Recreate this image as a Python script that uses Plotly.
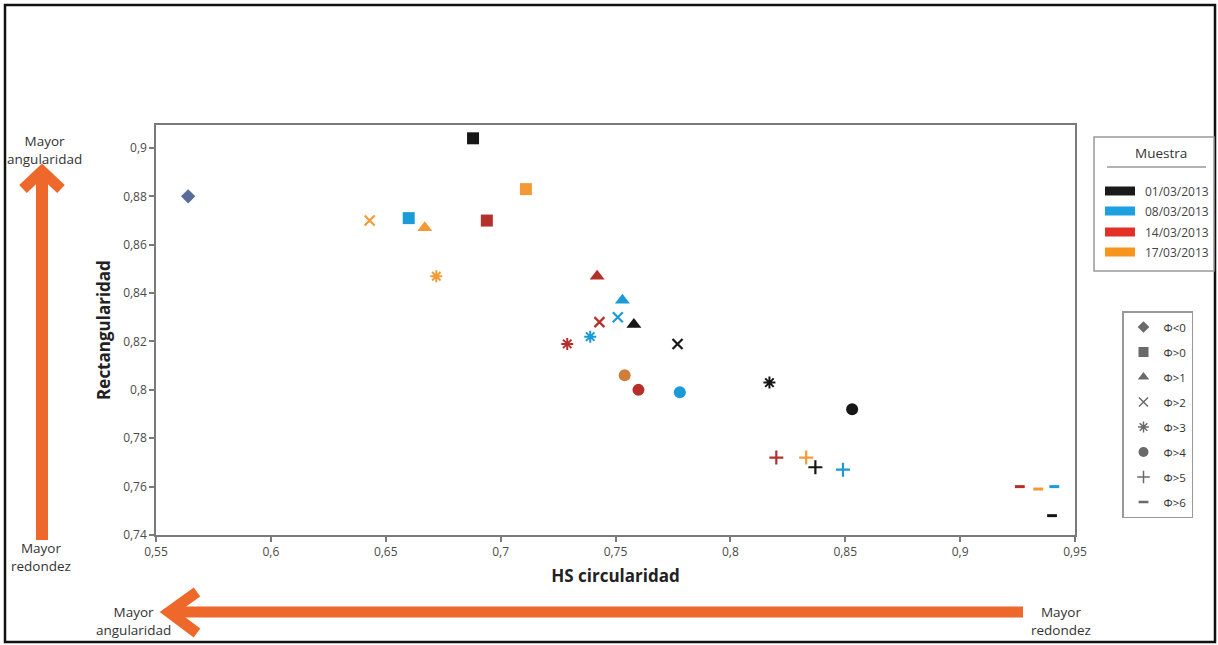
import plotly.graph_objects as go

# ---------------- data ----------------
classes = ["Φ<0", "Φ>0", "Φ>1", "Φ>2", "Φ>3", "Φ>4", "Φ>5", "Φ>6"]
samples = ["01/03/2013", "08/03/2013", "14/03/2013", "17/03/2013"]

# points for classes Φ>0 .. Φ>6 (7 values each)
x_0103 = [0.688, 0.758, 0.777, 0.817, 0.853, 0.837, 0.940]
y_0103 = [0.904, 0.827, 0.819, 0.803, 0.792, 0.768, 0.748]

x_0803 = [0.660, 0.753, 0.751, 0.739, 0.778, 0.849, 0.941]
y_0803 = [0.871, 0.837, 0.830, 0.822, 0.799, 0.767, 0.760]

x_1403 = [0.694, 0.742, 0.743, 0.729, 0.760, 0.820, 0.926]
y_1403 = [0.870, 0.847, 0.828, 0.819, 0.800, 0.772, 0.760]

x_1703 = [0.711, 0.667, 0.643, 0.672, 0.754, 0.833, 0.934]
y_1703 = [0.883, 0.867, 0.870, 0.847, 0.806, 0.772, 0.759]

# class Φ<0 (single point)
x_neg = [0.564]
y_neg = [0.880]

x_tickvals = [0.55, 0.6, 0.65, 0.7, 0.75, 0.8, 0.85, 0.9, 0.95]
x_ticktext = ["0,55", "0,6", "0,65", "0,7", "0,75", "0,8", "0,85", "0,9", "0,95"]
y_tickvals = [0.74, 0.76, 0.78, 0.8, 0.82, 0.84, 0.86, 0.88, 0.9]
y_ticktext = ["0,74", "0,76", "0,78", "0,8", "0,82", "0,84", "0,86", "0,88", "0,9"]

# ---------------- styles ----------------
W, H = 1218, 645
PL, PR, PT, PB = 156, 1075, 125, 535  # plot area in pixels


def px(x):
    return (x - PL) / (PR - PL)


def py(y):
    return (PB - y) / (PB - PT)


SYMBOLS = ["square", "triangle-up", "x-thin-open", "asterisk-open",
           "circle", "cross-thin-open", "line-ew-open"]
SIZES = [12, 13, 10, 10, 12, 10, 7]
LINEW = [0, 0, 2.2, 2, 0, 2.2, 3]

series = [
    (samples[0], x_0103, y_0103, ["#161616"] * 7),
    (samples[1], x_0803, y_0803, ["#1a9ad6"] * 7),
    (samples[2], x_1403, y_1403, ["#b5302a"] * 7),
    (samples[3], x_1703, y_1703, ["#f39a36"] * 4 + ["#cf7f3c"] + ["#f39a36"] * 2),
]
legend_colors = ["#1a1a1a", "#1ba1e2", "#e33027", "#f7941d"]

fig = go.Figure()

for name, xs, ys, cols in series:
    fig.add_trace(go.Scatter(
        x=xs, y=ys, mode="markers", name=name, showlegend=False,
        text=classes[1:], hovertemplate="%{text}<br>%{x}, %{y}<extra>" + name + "</extra>",
        marker=dict(symbol=SYMBOLS, size=SIZES, color=cols, opacity=1,
                    line=dict(width=LINEW, color=cols)),
    ))

fig.add_trace(go.Scatter(
    x=x_neg, y=y_neg, mode="markers", name=classes[0], showlegend=False,
    marker=dict(symbol="diamond", size=11, color="#5a6a9a", opacity=1),
))

# shape legend (legend2) with dummy entries
leg_symbols = ["diamond"] + SYMBOLS
leg_sizes = [9, 10, 10, 9, 9, 10, 9, 7]
leg_lw = [0, 0, 0, 1.5, 1.5, 0, 1.5, 2.5]
for i, c in enumerate(classes):
    fig.add_trace(go.Scatter(
        x=[None], y=[None], mode="markers", name=c, legend="legend2",
        legendgroup="g%d" % i, showlegend=True, hoverinfo="skip",
        marker=dict(symbol=leg_symbols[i], size=leg_sizes[i], color="#6a6a6a", opacity=1,
                    line=dict(width=leg_lw[i], color="#6a6a6a")),
    ))

shapes = []
annotations = []

# outer frame
shapes.append(dict(type="rect", xref="paper", yref="paper",
                   x0=px(5), x1=px(1215), y0=py(642), y1=py(5),
                   line=dict(color="#111111", width=2.5), layer="below"))

ORANGE = "#ef682b"
# vertical arrow
shapes.append(dict(type="line", xref="paper", yref="paper",
                   x0=px(42), x1=px(42), y0=py(540), y1=py(178),
                   line=dict(color=ORANGE, width=12)))
shapes.append(dict(type="path", xref="paper", yref="paper",
                   path="M %f,%f L %f,%f L %f,%f" % (px(23), py(189), px(42), py(171), px(61), py(189)),
                   line=dict(color=ORANGE, width=11)))
# horizontal arrow
shapes.append(dict(type="line", xref="paper", yref="paper",
                   x0=px(176), x1=px(1023), y0=py(612), y1=py(612),
                   line=dict(color=ORANGE, width=11)))
shapes.append(dict(type="path", xref="paper", yref="paper",
                   path="M %f,%f L %f,%f L %f,%f" % (px(197), py(592), px(169), py(612), px(197), py(633)),
                   line=dict(color=ORANGE, width=11)))

TXT = dict(family="Open Sans, Noto Sans, sans-serif", size=13.5, color="#333333")
for tx, ty, t in [(44, 150, "Mayor<br>angularidad"), (41, 557, "Mayor<br>redondez"),
                  (133, 621, "Mayor<br>angularidad"), (1061, 621, "Mayor<br>redondez")]:
    annotations.append(dict(x=px(tx), y=py(ty), xref="paper", yref="paper", text=t,
                            showarrow=False, xanchor="center", yanchor="middle",
                            font=TXT, align="center"))

# sample legend box (drawn)
shapes.append(dict(type="rect", xref="paper", yref="paper",
                   x0=px(1094), x1=px(1214), y0=py(271), y1=py(137),
                   line=dict(color="#999999", width=1.5), fillcolor="white"))
shapes.append(dict(type="line", xref="paper", yref="paper",
                   x0=px(1107), x1=px(1206), y0=py(167), y1=py(167),
                   line=dict(color="#999999", width=1.5)))
annotations.append(dict(x=px(1161), y=py(153), xref="paper", yref="paper", text="Muestra",
                        showarrow=False, xanchor="center", yanchor="middle",
                        font=dict(family="Open Sans, sans-serif", size=13.5, color="#333333")))
ys_leg = [191, 211, 232, 252]
for yl, name, col in zip(ys_leg, samples, legend_colors):
    shapes.append(dict(type="rect", xref="paper", yref="paper",
                       x0=px(1105), x1=px(1135), y0=py(yl + 4.5), y1=py(yl - 4.5),
                       line=dict(width=0), fillcolor=col))
    annotations.append(dict(x=px(1143), y=py(yl), xref="paper", yref="paper", text=name,
                            showarrow=False, xanchor="left", yanchor="middle",
                            font=dict(family="Open Sans, sans-serif", size=12, color="#444444")))

AX = dict(showgrid=False, zeroline=False, showline=True, linecolor="#7a7a7a", linewidth=1.5,
          mirror=True, ticks="outside", ticklen=5, tickcolor="#7a7a7a", tickwidth=1.5,
          tickfont=dict(family="Open Sans, sans-serif", size=12, color="#4a4a4a"))

fig.update_layout(
    width=W, height=H,
    margin=dict(l=PL, r=W - PR, t=PT, b=H - PB, autoexpand=False),
    paper_bgcolor="white", plot_bgcolor="white",
    xaxis=dict(range=[0.55, 0.95], tickvals=x_tickvals, ticktext=x_ticktext,
               title=dict(text="<b>HS circularidad</b>", standoff=11,
                          font=dict(family="Open Sans, sans-serif", size=17, color="#222222")),
               **AX),
    yaxis=dict(range=[0.74, 0.9095], tickvals=y_tickvals, ticktext=y_ticktext,
               title=dict(text="<b>Rectangularidad</b>", standoff=8,
                          font=dict(family="Open Sans, sans-serif", size=17, color="#222222")),
               **AX),
    legend2=dict(x=px(1122), y=py(311), xanchor="left", yanchor="top",
                 bordercolor="#999999", borderwidth=1.5, bgcolor="white",
                 traceorder="grouped", tracegroupgap=6, itemwidth=30,
                 font=dict(family="Open Sans, sans-serif", size=11.5, color="#333333")),
    shapes=shapes, annotations=annotations,
    hovermode="closest",
)

fig.write_html("out.html", config={"displayModeBar": False},
               post_script="document.body.style.margin='0px';document.body.style.overflow='hidden';")
